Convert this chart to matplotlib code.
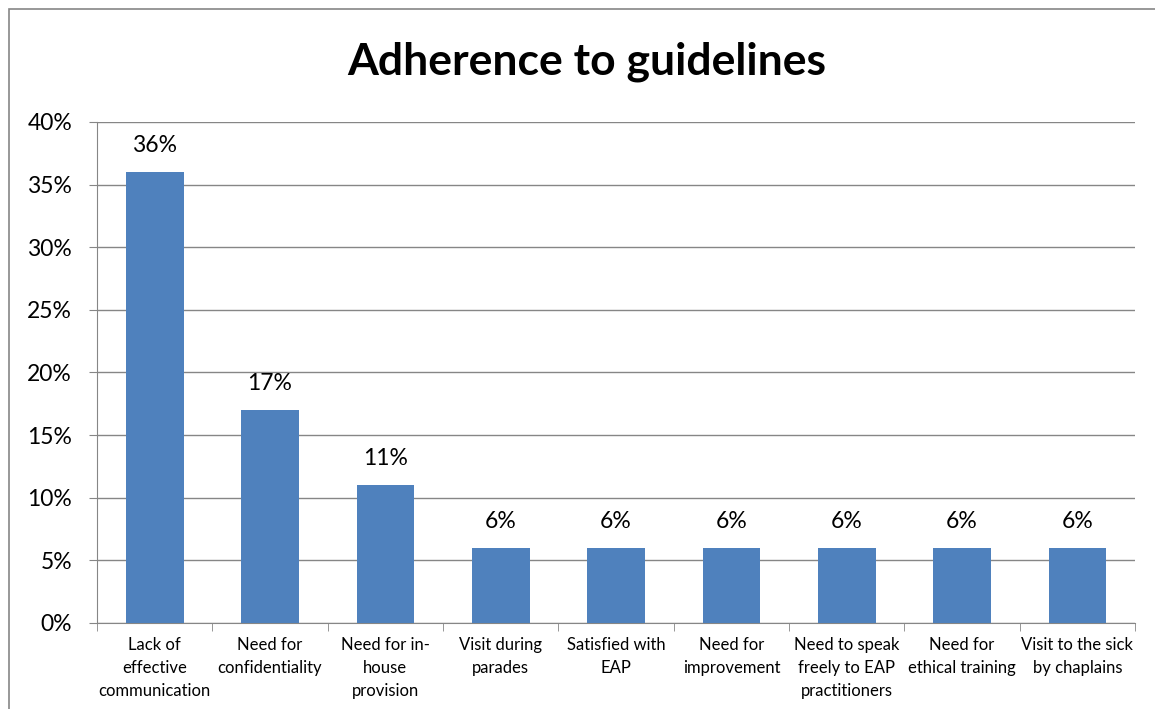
import numpy as np
import matplotlib.pyplot as plt
from matplotlib.patches import Rectangle
from matplotlib.ticker import MultipleLocator, FuncFormatter

plt.rcParams['font.family'] = ['Lato', 'DejaVu Sans']

# data
categories = ['Lack of\neffective\ncommunication', 'Need for\nconfidentiality',
              'Need for in-\nhouse\nprovision', 'Visit during\nparades',
              'Satisfied with\nEAP', 'Need for\nimprovement',
              'Need to speak\nfreely to EAP\npractitioners', 'Need for\nethical training',
              'Visit to the sick\nby chaplains']
values = [36, 17, 11, 6, 6, 6, 6, 6, 6]

fig = plt.figure(figsize=(11.55, 7.09), dpi=100)
ax = fig.add_axes([0.084, 0.1213, 0.8987, 0.7067])

x = np.arange(len(categories))
ax.bar(x, values, width=0.5, color='#4F81BD', zorder=3)

for xi, v in zip(x, values):
    ax.annotate(f'{v}%', (xi, v), xytext=(0, 19), textcoords='offset points',
                ha='center', va='center', fontsize=16.5)

ax.set_xlim(-0.5, len(categories) - 0.5)
ax.set_ylim(0, 40)
ax.yaxis.set_major_locator(MultipleLocator(5))
ax.yaxis.set_major_formatter(FuncFormatter(lambda v, p: f'{v:.0f}%'))
ax.grid(axis='y', color='#868686', linewidth=1, zorder=0)

ax.set_xticks(x)
ax.set_xticklabels(categories, fontsize=12, linespacing=1.55)
ax.set_xticks(np.arange(-0.5, len(categories)), minor=True)
ax.tick_params(axis='x', which='major', length=0, pad=10)
ax.tick_params(axis='x', which='minor', length=6, color='#868686')
ax.tick_params(axis='y', length=6, color='#868686', labelsize=16.5, pad=12)

for s in ['top', 'right']:
    ax.spines[s].set_visible(False)
for s in ['left', 'bottom']:
    ax.spines[s].set_color('#868686')

fig.text(0.508, 0.913, 'Adherence to guidelines', ha='center', va='center',
         fontsize=32, fontweight='bold')

# outer frame, cut off at right and bottom
fig.patches.append(Rectangle((9 / 1155, -0.05), 1.2, 0.05 + 700 / 709,
                             transform=fig.transFigure, fill=False,
                             edgecolor='#868686', linewidth=1.2))

fig.savefig('out.png', dpi=100)
